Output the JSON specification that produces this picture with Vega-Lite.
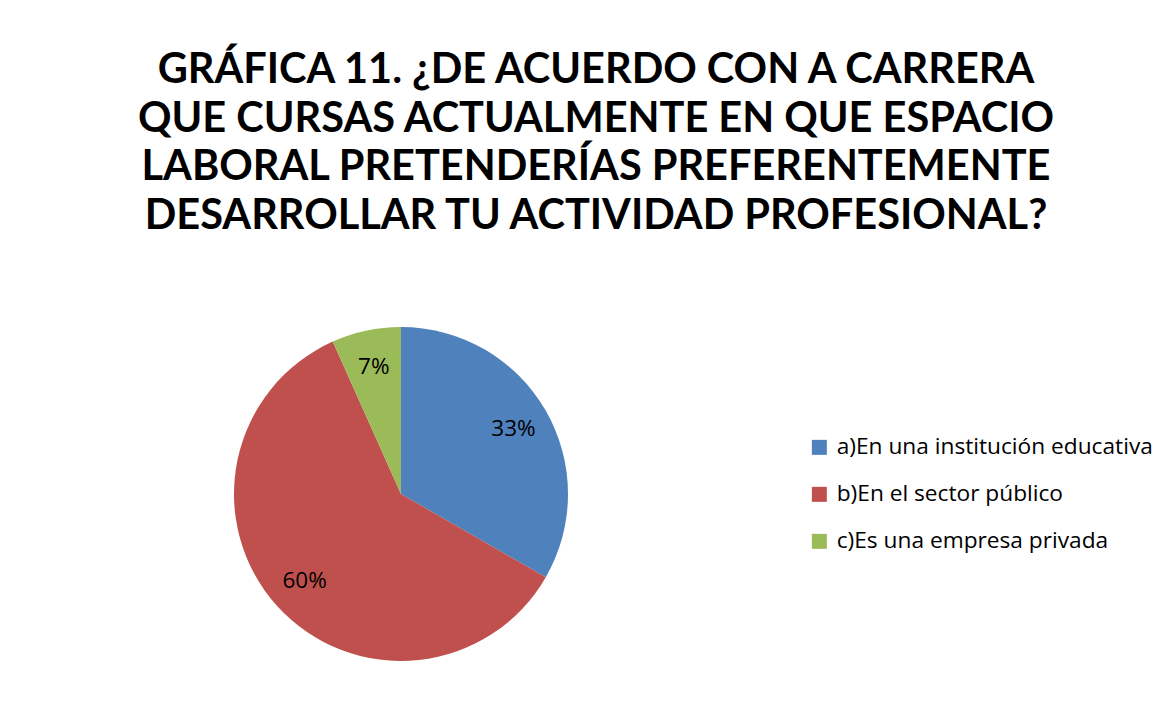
{
  "$schema": "https://vega.github.io/schema/vega-lite/v6.json",
  "width": 334,
  "height": 334,
  "autosize": {"type": "none"},
  "padding": {"left": 234, "top": 327, "right": 602, "bottom": 50},
  "background": "white",
  "title": {
    "text": ["GRÁFICA 11. ¿DE ACUERDO CON A CARRERA", "QUE CURSAS ACTUALMENTE EN QUE ESPACIO", "LABORAL PRETENDERÍAS PREFERENTEMENTE", "DESARROLLAR TU ACTIVIDAD PROFESIONAL?"],
    "anchor": "middle",
    "frame": "group",
    "dx": 195,
    "offset": 90,
    "font": "Lato",
    "fontWeight": "bold",
    "fontSize": 41.5,
    "lineHeight": 48.5,
    "color": "#000000"
  },
  "data": {
    "values": [
      {"category": "a)En una institución educativa", "share": 0.333},
      {"category": "b)En el sector público", "share": 0.6},
      {"category": "c)Es una empresa privada", "share": 0.067}
    ]
  },
  "config": {"view": {"stroke": null}},
  "layer": [
    {
      "mark": {"type": "arc", "outerRadius": 167},
      "encoding": {
        "theta": {"field": "share", "type": "quantitative", "stack": true},
        "order": {"field": "category", "type": "nominal", "sort": "ascending"},
        "color": {
          "field": "category",
          "type": "nominal",
          "scale": {
            "domain": ["a)En una institución educativa", "b)En el sector público", "c)Es una empresa privada"],
            "range": ["#4F81BD", "#C0504D", "#9BBB59"]
          },
          "legend": {
            "title": null,
            "orient": "none",
            "legendX": 574,
            "legendY": 109,
            "symbolType": "square",
            "symbolSize": 225,
            "symbolStrokeWidth": 0,
            "labelFont": "Open Sans",
            "labelFontSize": 22.7,
            "labelColor": "#000000",
            "labelOffset": 6,
            "rowPadding": 23,
            "labelLimit": 400,
            "padding": 0
          }
        }
      }
    },
    {
      "mark": {"type": "text", "radius": 130, "font": "Open Sans", "fontSize": 22.5, "color": "#000000"},
      "encoding": {
        "theta": {"field": "share", "type": "quantitative", "stack": true},
        "order": {"field": "category", "type": "nominal", "sort": "ascending"},
        "detail": {"field": "category", "type": "nominal"},
        "text": {"field": "share", "type": "quantitative", "format": ".0%"}
      }
    }
  ]
}
